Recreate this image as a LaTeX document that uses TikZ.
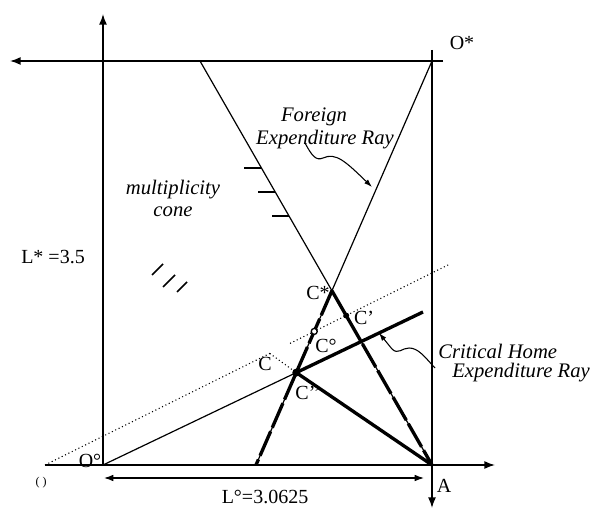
\documentclass[tikz,border=0pt]{standalone}
\usepackage{fontspec}
\setmainfont{Liberation Serif}
\usetikzlibrary{arrows.meta,calc,intersections}
\begin{document}
\begin{tikzpicture}[x=0.75pt,y=-0.75pt,
 ax/.style={line width=1.1pt},
 tip/.style={-{Latex[length=8pt,width=6pt]}},
 thickline/.style={line width=2.5pt},
 thinline/.style={line width=0.9pt},
 lbl/.style={font=\fontsize{15}{17}\selectfont, inner sep=0pt},
 ilbl/.style={font=\fontsize{15.5}{17}\selectfont\itshape, inner sep=0pt},
 wavy/.style={line width=0.8pt,-{Latex[length=6pt,width=4pt]}},
]
\useasboundingbox (0,0) rectangle (591,509);
% key points
\coordinate (Oh) at (103,465);
\coordinate (A) at (432,465);
\coordinate (Os) at (432,61);
\coordinate (F) at (200,61);
\coordinate (B) at (256,465);
\coordinate (H) at (423,312);
\coordinate (D0) at (45,465);
\coordinate (D1) at (450,264);
\coordinate (Cs) at (intersection of F--A and Os--B);
\coordinate (Cpp) at (intersection of Oh--H and Os--B);
\coordinate (Cp) at (intersection of D0--D1 and F--A);
\coordinate (Cc) at (intersection of D0--D1 and Os--B);
\coordinate (Ytop) at (103,14);
\coordinate (Xleft) at (10,61);
\coordinate (Xtopr) at (443,61);
\coordinate (Vtop) at (432,50);
\coordinate (Vbot) at (432,508);
\coordinate (Xright) at (495,465);
% axes
\draw[ax,tip] (Oh) -- (Ytop);
\draw[ax,tip] (Xtopr) -- (Xleft);
\draw[ax,tip] (Vtop) -- (Vbot);
\draw[ax,tip] (D0) -- (Xright);
\draw[line width=2.2pt] (Oh) -- (A);
% dimension arrow
\coordinate (DL) at (104,478);
\coordinate (DR) at (424,478);
\draw[thinline,{Latex[length=7pt,width=5pt]}-{Latex[length=7pt,width=5pt]}] (DL) -- (DR);
% foreign rays
\draw[thinline] (F) -- (A);
\draw[thinline] (Os) -- (B);
\draw[thickline,dash pattern=on 20pt off 3pt] (Cs) -- (A);
\draw[thickline,dash pattern=on 20pt off 3pt] (Cs) -- (B);
% home ray
\draw[thinline] (Oh) -- (Cpp);
\draw[thickline] (Cpp) -- (H);
\draw[thickline] (Cpp) -- (A);
% dotted line
\draw[dotted,line width=0.8pt] (D0) -- ($(D0)!0.56!(D1)$);
\draw[dotted,line width=0.8pt] ($(D0)!0.605!(D1)$) -- (D1);
\draw[dotted,line width=0.8pt] ($(D0)!0.555!(D1)$) -- (Cpp);
% dots
\fill (Cpp) circle (4);
\fill (Cp) circle (3);
\draw[fill=white,line width=1pt] (Cc) circle (3);
% hatch marks on foreign ray
\foreach \t in {0.265,0.324,0.384}
  \draw[line width=1.1pt] ($(F)!\t!(A)$) -- +(-17,0);
% diagonal marks
\draw[line width=1.1pt] (152,275) -- (163,264);
\draw[line width=1.1pt] (163,287) -- (175,275);
\draw[line width=1.1pt] (177,292) -- (187,282);
% wavy arrows
\coordinate (fw0) at (305,143);
\coordinate (fw1) at (323,158);
\coordinate (fw2) at (372,187);
\draw[wavy] (fw0) .. controls (312,156) and (316,161) .. (fw1) .. controls (336,152) and (346,162) .. (fw2);
\coordinate (cw0) at (435,368);
\coordinate (cw1) at (409,348);
\coordinate (cw2) at (392,349);
\coordinate (cw3) at (379,333);
\draw[wavy] (cw0) .. controls (424,356) and (418,348) .. (cw1) .. controls (402,348) and (398,355) .. (cw2) -- (cw3);
% labels
\node[lbl] (lOs) at (462,43) {O*};
\node[lbl] (lOh) at (90,461) {O°};
\node[lbl] (lL) at (53,257) {L* =3.5};
\node[font=\fontsize{9}{10}\selectfont,inner sep=0pt] (lO) at (41,483) {( )};
\node[lbl] (lA) at (444,486) {A};
\node[lbl] (lLo) at (265,497) {L°=3.0625};
\node[lbl] (lCs) at (318,293) {C*};
\node[lbl] (lCp) at (364,318) {C’};
\node[lbl] (lCc) at (326,346) {C°};
\node[lbl] (lC) at (265,364) {C};
\node[lbl] (lCpp) at (308,393) {C’’};
\node[ilbl] (m1) at (173,190) {multiplicity};
\node[ilbl] (m2) at (173,212) {cone};
\node[ilbl] (f1) at (314,117) {Foreign};
\node[ilbl] (f2) at (325,140) {Expenditure Ray};
\node[ilbl,anchor=west] (c1) at (438,351) {Critical Home};
\node[ilbl,anchor=west] (c2) at (452,373) {Expenditure Ray};
\end{tikzpicture}
\end{document}
